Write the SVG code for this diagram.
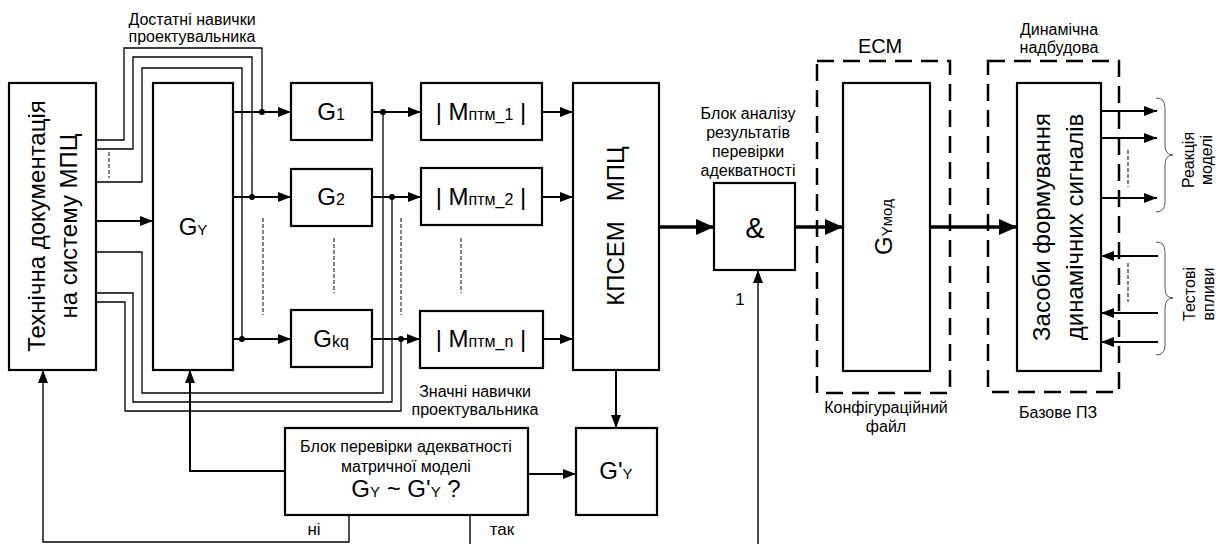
<svg xmlns="http://www.w3.org/2000/svg" width="1223" height="544" viewBox="0 0 1223 544">
<defs>
<marker id="ar" markerUnits="userSpaceOnUse" markerWidth="13" markerHeight="10" refX="13" refY="5" orient="auto"><path d="M0,0 L13,5 L0,10 z" fill="#000"/></marker>
<marker id="arb" markerUnits="userSpaceOnUse" markerWidth="18" markerHeight="16" refX="18" refY="8" orient="auto"><path d="M0,0 L18,8 L0,16 z" fill="#000"/></marker>
<style>
text{font-family:"Liberation Sans",Arial,sans-serif;fill:#000}
.box{fill:#fff;stroke:#000;stroke-width:2.2}
.w{fill:none;stroke:#000;stroke-width:1.3}
.a{fill:none;stroke:#000;stroke-width:2;marker-end:url(#ar)}
.at{fill:none;stroke:#000;stroke-width:1.4;marker-end:url(#ar)}
.ab{fill:none;stroke:#000;stroke-width:3.5;marker-end:url(#arb)}
.d{fill:none;stroke:#000;stroke-width:1;stroke-dasharray:4 2}
.db{fill:none;stroke:#000;stroke-width:2.5;stroke-dasharray:17 9}
.br{fill:none;stroke:#555;stroke-width:1}
.l{font-size:16px}
.big{font-size:24px}
.g{font-size:24px}
.s{font-size:15px}
.sub{font-size:16px}
</style>
</defs>
<rect width="1223" height="544" fill="#fff"/>

<g id="ecm-frame">
<rect class="db" x="817" y="61" width="133" height="332"/>
<text x="880" y="53" text-anchor="middle" style="font-size:20px">ЕСМ</text>
<text class="l" x="886" y="413" text-anchor="middle">Конфігураційний</text>
<text class="l" x="886" y="432" text-anchor="middle">файл</text>
</g>
<g id="dyn-frame">
<rect class="db" x="988" y="61" width="131" height="331"/>
<text class="l" x="1059" y="35" text-anchor="middle">Динамічна</text>
<text class="l" x="1059" y="53" text-anchor="middle">надбудова</text>
<text class="l" x="1058" y="418" text-anchor="middle">Базове ПЗ</text>
</g>

<g id="connectors">
<path class="a" d="M96,221 H153"/>
<path class="w" d="M96,140 H124 V48 H262 V112"/>
<path class="w" d="M96,149 H133 V57 H252 V197"/>
<path class="w" d="M96,182 H142 V68 H242 V339"/>
<path class="d" d="M109,152 V178"/>
<path class="w" d="M96,252 H142 V393 H383 V112"/>
<path class="w" d="M96,293 H133 V402 H392 V197"/>
<path class="w" d="M96,302 H125 V411 H401 V339"/>
<path class="d" d="M401,218 V315"/>
<path class="a" d="M233,112 H291"/>
<path class="a" d="M233,197 H291"/>
<path class="a" d="M233,339 H291"/>
<path class="d" d="M263,218 V315"/>
<path class="a" d="M372,112 H421"/>
<path class="a" d="M372,197 H421"/>
<path class="a" d="M372,339 H420"/>
<path class="a" d="M542,112 H573"/>
<path class="a" d="M542,197 H573"/>
<path class="a" d="M543,339 H573"/>
<path class="d" d="M334,238 V293"/>
<path class="d" d="M461,238 V293"/>
<g fill="#000">
<circle cx="262" cy="112" r="3"/>
<circle cx="252" cy="197" r="3"/>
<circle cx="242" cy="339" r="3"/>
<circle cx="383" cy="112" r="3"/>
<circle cx="392" cy="197" r="3"/>
<circle cx="401" cy="339" r="3"/>
</g>
<path class="ab" d="M659,227 H714"/>
<path class="ab" d="M795,227 H843"/>
<path class="ab" d="M930,227 H1017"/>
<path class="a" d="M616,370 V428"/>
<path class="a" d="M528,474 H576"/>
<path class="a" d="M285,471 H190 V370"/>
<path class="at" d="M349,515 V542 H43 V370"/>
<path class="w" style="stroke-width:1.4" d="M470,515 V544"/>
<path class="at" d="M758,544 V270"/>
<path class="a" d="M1101,111 H1157"/>
<path class="a" d="M1101,138 H1157"/>
<path class="a" d="M1101,198 H1157"/>
<path class="d" d="M1128,150 V187"/>
<path class="a" d="M1158,256 H1101"/>
<path class="a" d="M1158,313 H1101"/>
<path class="a" d="M1158,342 H1101"/>
<path class="d" d="M1128,263 V302"/>
<path class="br" d="M1156,98 Q1165,98 1165,108 V145 Q1165,155 1173,155 Q1165,155 1165,165 V202 Q1165,212 1156,212"/>
<path class="br" d="M1156,242 Q1165,242 1165,252 V288 Q1165,298 1173,298 Q1165,298 1165,308 V345 Q1165,355 1156,355"/>
</g>

<g id="labels">
<text class="l" x="192" y="25" text-anchor="middle">Достатні навички</text>
<text class="l" x="192" y="42" text-anchor="middle">проектувальника</text>
<text class="l" x="475" y="397" text-anchor="middle">Значні навички</text>
<text class="l" x="475" y="415" text-anchor="middle">проектувальника</text>
<text class="l" x="748" y="119" text-anchor="middle">Блок аналізу</text>
<text class="l" x="748" y="138" text-anchor="middle">результатів</text>
<text class="l" x="748" y="157" text-anchor="middle">перевірки</text>
<text class="l" x="748" y="176" text-anchor="middle">адекватності</text>
<text class="l" x="740" y="305" text-anchor="middle" style="font-size:17px">1</text>
<text x="314" y="535" text-anchor="middle" style="font-size:17px">ні</text>
<text x="502" y="535" text-anchor="middle" style="font-size:17px">так</text>
<text class="l" transform="translate(1194,160) rotate(-90)" text-anchor="middle">Реакція</text>
<text class="l" transform="translate(1212,160) rotate(-90)" text-anchor="middle">моделі</text>
<text class="l" transform="translate(1195,294) rotate(-90)" text-anchor="middle">Тестові</text>
<text class="l" transform="translate(1214,294) rotate(-90)" text-anchor="middle">впливи</text>
</g>

<g id="doc">
<rect class="box" x="9" y="83" width="87" height="287"/>
<text class="big" transform="translate(45,226) rotate(-90)" text-anchor="middle">Технічна документація</text>
<text class="big" transform="translate(77,226) rotate(-90)" text-anchor="middle">на систему МПЦ</text>
</g>
<g id="gy">
<rect class="box" x="153" y="83" width="80" height="287"/>
<text class="g" x="193" y="235" text-anchor="middle">G<tspan class="s">Y</tspan></text>
</g>
<g id="g1">
<rect class="box" x="291" y="83" width="81" height="57"/>
<text class="g" x="331" y="120" text-anchor="middle">G<tspan class="sub">1</tspan></text>
</g>
<g id="g2">
<rect class="box" x="291" y="169" width="81" height="57"/>
<text class="g" x="331" y="205" text-anchor="middle">G<tspan class="sub">2</tspan></text>
</g>
<g id="gkq">
<rect class="box" x="291" y="310" width="81" height="57"/>
<text class="g" x="331" y="347" text-anchor="middle">G<tspan class="sub">kq</tspan></text>
</g>
<g id="m1">
<rect class="box" x="421" y="83" width="121" height="57"/>
<text class="g" x="481" y="120" text-anchor="middle">| M<tspan class="sub">птм_1</tspan> |</text>
</g>
<g id="m2">
<rect class="box" x="421" y="168" width="121" height="57"/>
<text class="g" x="481" y="205" text-anchor="middle">| M<tspan class="sub">птм_2</tspan> |</text>
</g>
<g id="mn">
<rect class="box" x="420" y="311" width="123" height="57"/>
<text class="g" x="481" y="347" text-anchor="middle">| M<tspan class="sub">птм_n</tspan> |</text>
</g>
<g id="kpsem">
<rect class="box" x="573" y="83" width="86" height="287"/>
<text class="big" transform="translate(624,226) rotate(-90)" text-anchor="middle">КПСЕМ&#160;&#160;&#160;МПЦ</text>
</g>
<g id="gyprime">
<rect class="box" x="576" y="428" width="81" height="87"/>
<text class="g" x="616" y="479" text-anchor="middle">G'<tspan class="s">Y</tspan></text>
</g>
<g id="check">
<rect class="box" x="285" y="428" width="243" height="87"/>
<text class="l" x="406" y="452" text-anchor="middle">Блок перевірки адекватності</text>
<text class="l" x="406" y="472" text-anchor="middle">матричної моделі</text>
<text class="g" x="406" y="497" text-anchor="middle">G<tspan class="s">Y</tspan> ~ G'<tspan class="s">Y</tspan> ?</text>
</g>
<g id="and">
<rect class="box" x="714" y="183" width="81" height="87"/>
<text x="755" y="238" text-anchor="middle" style="font-size:29px">&amp;</text>
</g>
<g id="gymod">
<rect class="box" x="843" y="83" width="87" height="288"/>
<text class="g" transform="translate(892,227) rotate(-90)" text-anchor="middle">G<tspan class="s">Yмод</tspan></text>
</g>
<g id="zasoby">
<rect class="box" x="1017" y="83" width="84" height="288"/>
<text class="big" transform="translate(1050,227) rotate(-90)" text-anchor="middle">Засоби формування</text>
<text class="big" transform="translate(1083,227) rotate(-90)" text-anchor="middle">динамічних сигналів</text>
</g>
</svg>
